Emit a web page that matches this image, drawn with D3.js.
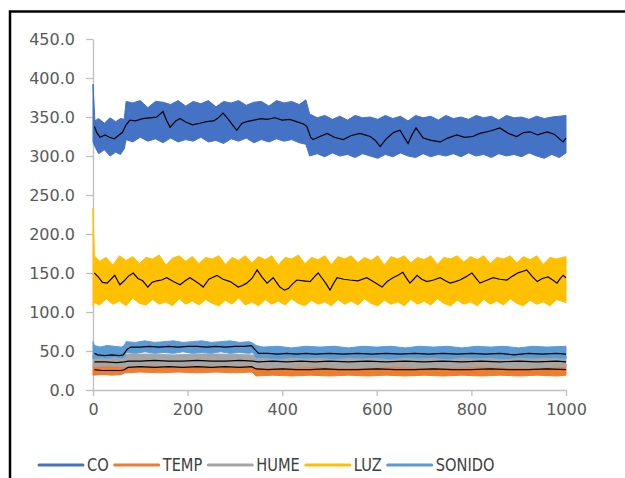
<!DOCTYPE html>
<html>
<head>
<meta charset="utf-8">
<script src="https://cdn.jsdelivr.net/npm/d3@7"></script>
<style>
  body { margin: 0; background: #fff; }
  svg { display: block; }
</style>
</head>
<body>
<svg width="625" height="478"></svg>
<script>
// Sensor readings, 1000 samples per series.
// Bands are the min/max envelope of the noisy trace [x, low, high],
// trends are the black moving-average lines [x, value].
var seriesNames = ["CO", "TEMP", "HUME", "LUZ", "SONIDO"];
var seriesColors = ["#4472C4", "#ED7D31", "#A5A5A5", "#FFC000", "#5B9BD5"];
var xTicks = [0, 200, 400, 600, 800, 1000];
var yTicks = [0, 50, 100, 150, 200, 250, 300, 350, 400, 450];

var coBand = [[0,318,392],[4,312,345],[12,303,348],[24,308,342],[36,300,349],[48,305,344],[58,302,348],[66,309,347],
  [70,321,370],[84,318,368],[100,324,371],[116,319,362],[132,322,370],[148,317,369],[164,323,366],[180,318,371],
  [196,321,364],[212,319,370],[228,324,367],[244,318,371],[260,320,363],[276,316,370],[292,322,368],[308,319,371],
  [324,323,365],[340,317,369],[356,321,370],[372,318,364],[388,322,371],[404,319,368],[420,321,370],[436,317,366],
  [450,315,372],[458,300,354],[474,303,349],[490,299,352],[506,304,347],[522,300,351],[538,302,346],[554,298,352],
  [570,303,349],[586,300,350],[602,297,347],[618,302,352],[634,299,348],[650,304,351],[666,300,345],[682,298,352],
  [698,303,349],[714,299,351],[730,302,346],[746,300,352],[762,303,348],[778,299,350],[794,304,347],[810,300,352],
  [826,302,349],[842,298,351],[858,303,346],[874,300,352],[890,302,349],[906,299,350],[922,304,347],[938,300,351],
  [954,297,348],[970,302,350],[986,298,351],[1000,304,352]];
var coTrend = [[3,338],[8,330],[15,324],[25,327],[35,324],[45,322],[55,327],[62,330],[70,340],[78,346],[90,345],
  [105,348],[120,349],[135,350],[148,357],[156,345],[163,337],[175,345],[184,348],[195,344],[210,340],[226,342],
  [240,344],[255,345],[265,349],[275,355],[285,348],[295,340],[304,333],[315,342],[325,344],[340,346],[355,348],
  [368,347],[385,349],[400,346],[416,347],[430,344],[445,341],[452,338],[460,324],[465,321],[480,325],[495,329],
  [510,324],[529,321],[545,326],[564,329],[575,327],[586,325],[597,320],[607,312],[620,322],[635,330],[649,333],
  [660,322],[666,316],[675,328],[683,336],[698,323],[715,320],[734,318],[750,323],[769,327],[786,324],[803,325],
  [818,329],[840,332],[860,336],[878,329],[896,325],[910,330],[924,331],[940,327],[960,331],[975,328],[990,320],
  [994,318],[1000,323]];

var tempBand = [[0,19,33],[20,20,32],[40,19,33],[60,20,33],[68,22,35],[100,23,35],[140,22,36],[180,23,35],
  [220,22,35],[260,23,36],[300,22,35],[336,23,35],[345,18,33],[380,19,33],[420,18,32],[460,19,33],[500,18,33],
  [540,19,32],[580,18,33],[620,19,33],[660,18,32],[700,19,33],[740,18,33],[780,19,32],[820,18,33],[860,19,33],
  [900,18,32],[940,19,33],[980,18,33],[1000,19,33]];
var tempTrend = [[3,26],[20,25],[40,25],[60,25],[66,26],[74,29],[100,30],[130,29],[160,30],[190,29],[220,30],
  [250,29],[280,30],[310,29],[335,30],[345,27],[370,26],[400,27],[430,26],[460,26],[490,27],[520,26],[560,26],
  [600,27],[640,26],[680,26],[720,27],[760,26],[800,26],[840,27],[880,26],[920,26],[960,27],[1000,26]];

var humeBand = [[0,30,45],[30,31,44],[66,30,45],[70,30,46],[120,31,46],[170,30,45],[220,31,46],[270,30,46],
  [336,31,45],[345,29,44],[400,29,43],[460,30,44],[520,29,44],[580,29,43],[640,30,44],[700,29,44],[760,29,43],
  [820,30,44],[880,29,44],[940,29,43],[1000,30,44]];
var humeTrend = [[3,36],[25,36],[50,35],[66,36],[75,37],[100,37],[130,38],[160,37],[190,37],[220,38],[250,37],
  [280,37],[310,38],[338,37],[350,36],[380,37],[410,36],[440,37],[470,36],[500,37],[540,36],[580,37],[620,36],
  [660,37],[700,36],[740,37],[780,36],[820,37],[860,36],[900,37],[940,36],[980,37],[1000,36]];

var luzBand = [[0,108,233],[3,112,172],[14,109,165],[28,117,170],[42,110,160],[56,114,172],[70,108,166],[84,118,171],
  [98,111,162],[112,109,170],[126,116,168],[140,110,173],[154,113,160],[168,108,169],[182,117,172],[196,110,165],
  [210,114,171],[224,109,162],[238,116,170],[252,111,168],[266,108,172],[280,115,161],[294,110,170],[308,118,166],
  [322,109,172],[336,113,163],[350,108,171],[364,116,167],[378,110,172],[392,114,160],[406,109,170],[420,117,168],
  [434,111,173],[448,108,162],[462,115,170],[476,110,167],[490,113,172],[504,108,161],[518,116,171],[532,110,168],
  [546,114,172],[560,109,163],[574,117,170],[588,111,166],[602,108,172],[616,115,160],[630,110,171],[644,113,168],
  [658,108,172],[672,116,163],[686,110,170],[700,114,167],[714,109,172],[728,117,161],[742,111,170],[756,108,168],
  [770,115,172],[784,110,164],[798,113,171],[812,108,167],[826,116,172],[840,110,162],[854,114,170],[868,109,168],
  [882,117,172],[896,111,163],[910,108,171],[924,115,167],[938,110,172],[952,113,161],[966,108,170],[980,116,168],
  [1000,112,171]];
var luzTrend = [[3,150],[11,145],[20,138],[30,137],[38,142],[46,147],[52,140],[57,135],[66,140],[75,146],[85,150],
  [95,143],[105,140],[116,132],[125,138],[135,140],[145,141],[156,144],[170,139],[184,135],[195,140],[205,144],
  [215,140],[225,136],[233,132],[245,142],[262,147],[275,142],[290,139],[300,135],[307,132],[316,134],[325,137],
  [336,143],[347,154],[357,145],[368,137],[381,144],[388,138],[395,132],[405,128],[413,130],[422,136],[431,141],
  [445,140],[459,139],[468,145],[476,150],[486,142],[494,135],[501,128],[508,136],[516,144],[530,142],[543,141],
  [560,140],[579,144],[595,138],[611,132],[622,139],[634,144],[645,147],[655,151],[662,144],[670,137],[678,142],
  [685,147],[695,142],[706,139],[720,141],[734,144],[745,140],[755,137],[766,139],[776,141],[788,145],[801,150],
  [810,143],[818,137],[830,140],[846,144],[860,142],[875,141],[887,146],[898,150],[908,152],[917,154],[928,146],
  [939,139],[950,143],[962,145],[972,141],[981,137],[988,143],[994,147],[1000,144]];

var sonidoBand = [[0,40,62],[3,41,57],[15,42,55],[30,41,57],[45,43,56],[60,41,55],[66,42,57],[70,48,62],[90,47,61],
  [110,49,63],[130,47,61],[150,48,62],[170,47,63],[190,49,61],[210,47,62],[230,48,63],[250,47,61],[270,49,62],
  [290,47,63],[310,48,61],[330,47,62],[338,48,60],[345,41,57],[360,42,55],[390,40,56],[420,42,54],[450,41,56],
  [480,42,55],[510,40,56],[540,42,54],[570,41,56],[600,42,55],[630,40,56],[660,42,54],[690,41,56],[720,42,55],
  [750,40,56],[780,42,54],[810,41,56],[840,42,55],[870,40,56],[900,42,54],[930,41,56],[960,42,55],[1000,41,56]];
var sonidoTrend = [[3,47],[10,45],[25,44],[40,45],[55,44],[64,45],[72,52],[80,55],[100,55],[120,56],[140,55],
  [160,56],[180,55],[200,56],[220,56],[240,55],[260,56],[280,55],[300,56],[320,56],[335,57],[342,52],[350,47],
  [370,47],[390,46],[410,47],[430,46],[450,47],[470,46],[500,47],[530,46],[560,47],[590,46],[620,47],[650,46],
  [680,47],[710,46],[740,47],[770,46],[800,47],[830,46],[860,47],[890,45],[920,47],[950,46],[980,47],[1000,46]];

var bands = [coBand, tempBand, humeBand, luzBand, sonidoBand];
var trends = [coTrend, tempTrend, humeTrend, luzTrend, sonidoTrend];

var svg = d3.select("svg");

// outer chart border
svg.append("rect")
    .attr("x", 10).attr("y", 11.5)
    .attr("width", 700).attr("height", 600)
    .attr("fill", "none").attr("stroke", "#000").attr("stroke-width", 2.5);

var x = d3.scaleLinear().domain([0, 1000]).range([93, 566]);
var y = d3.scaleLinear().domain([0, 450]).range([390, 39]);

svg.append("g")
    .attr("transform", "translate(93,0)")
    .call(d3.axisLeft(y).tickValues(yTicks).tickFormat(d3.format(".1f")).tickSizeInner(7).tickSizeOuter(0).tickPadding(11));
svg.append("g")
    .attr("transform", "translate(0,390)")
    .call(d3.axisBottom(x).tickValues(xTicks).tickFormat(d3.format("d")).tickSizeInner(6).tickSizeOuter(0).tickPadding(8));

svg.selectAll(".domain, .tick line").attr("stroke", "#bfbfbf").attr("stroke-width", 1.3);
svg.selectAll(".tick text")
    .attr("fill", "#595959")
    .style("font-family", "'DejaVu Sans', sans-serif")
    .style("font-size", "16px");

var area = d3.area()
    .x(function (d) { return x(d[0]); })
    .y0(function (d) { return y(d[1]); })
    .y1(function (d) { return y(d[2]); });

var line = d3.line()
    .x(function (d) { return x(d[0]); })
    .y(function (d) { return y(d[1]); });

svg.append("g").selectAll("path")
    .data(bands)
    .enter()
    .append("path")
    .attr("d", area)
    .attr("fill", function (d, i) { return seriesColors[i]; })
    .attr("stroke", function (d, i) { return seriesColors[i]; })
    .attr("stroke-width", 1);

svg.append("g").selectAll("path")
    .data(trends)
    .enter()
    .append("path")
    .attr("d", line)
    .attr("fill", "none")
    .attr("stroke", "#000")
    .attr("stroke-width", 1.2);

// legend, text squeezed to look like a narrow face
var legend = svg.append("g").attr("transform", "translate(0,465)");
var lx = 39;
var squeeze = 0.86;
seriesNames.forEach(function (name, i) {
    legend.append("line")
        .attr("x1", lx).attr("x2", lx + 44)
        .attr("y1", 0).attr("y2", 0)
        .attr("stroke", seriesColors[i])
        .attr("stroke-width", 3)
        .attr("stroke-linecap", "round");
    var t = legend.append("g")
        .attr("transform", "translate(" + (lx + 48) + ",0) scale(" + squeeze + ",1)")
        .append("text")
        .attr("dy", "0.36em")
        .attr("fill", "#404040")
        .style("font-family", "'DejaVu Sans', sans-serif")
        .style("font-size", "17px")
        .text(name);
    lx = lx + 48 + t.node().getComputedTextLength() * squeeze + 6;
});
</script>
</body>
</html>
